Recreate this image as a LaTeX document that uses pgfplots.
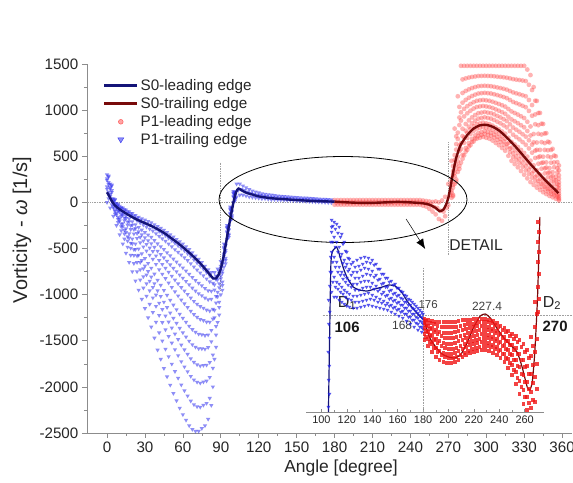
\documentclass[border=0pt]{standalone}
\usepackage{pgfplots}
\pgfplotsset{compat=1.18}
\usepackage{pgfplotstable}
\usepackage{fontspec}
\setmainfont{Liberation Sans}
\usetikzlibrary{arrows.meta}

\definecolor{navyline}{RGB}{20,20,120}
\definecolor{darkredline}{RGB}{120,10,10}
\definecolor{p1blue}{RGB}{50,50,240}
\definecolor{p1red}{RGB}{255,75,75}
\definecolor{inblue}{RGB}{30,30,230}
\definecolor{inred}{RGB}{240,20,20}
\definecolor{axisgray}{RGB}{140,140,140}
\definecolor{dotgray}{RGB}{160,160,160}

% P1-trailing edge (main): levels f0..f6 and in-between levels h1..h6
\pgfplotstableread{
a b f0 f1 f2 f3 f4 f5 f6 h1 h2 h3 h4 h5 h6
0 1.25 300 276 240 195 144 84 0 288 258 218 170 114 42
2.5 3.75 200 179 148 109 65 13 -60 190 164 129 87 39 -24
5 6.25 40 25 2 -27 -59 -97 -150 33 14 -13 -43 -78 -124
7.5 8.75 -10 -29 -58 -94 -135 -183 -250 -20 -44 -76 -115 -159 -217
10 11.25 -40 -65 -102 -149 -201 -263 -350 -53 -84 -126 -175 -232 -307
12.5 13.75 -60 -91 -138 -197 -263 -341 -450 -76 -115 -168 -230 -302 -396
15 16.25 -80 -118 -174 -245 -324 -418 -550 -99 -146 -210 -285 -371 -484
17.5 18.75 -100 -144 -210 -293 -386 -496 -650 -122 -177 -252 -340 -441 -573
20 21.25 -120 -170 -246 -341 -448 -574 -750 -145 -208 -294 -395 -511 -662
22.5 23.75 -140 -197 -282 -389 -509 -651 -850 -169 -240 -336 -449 -580 -751
25 26.25 -160 -223 -318 -437 -571 -729 -950 -192 -271 -378 -504 -650 -840
27.5 28.75 -175 -245 -350 -481 -630 -805 -1050 -210 -298 -416 -556 -718 -928
30 31.25 -190 -267 -382 -526 -689 -881 -1150 -229 -325 -454 -608 -785 -1016
32.5 33.75 -205 -289 -414 -571 -748 -957 -1250 -247 -352 -493 -660 -853 -1104
35 36.25 -220 -310 -446 -616 -808 -1034 -1350 -265 -378 -531 -712 -921 -1192
37.5 38.75 -240 -338 -486 -671 -880 -1126 -1470 -289 -412 -579 -776 -1003 -1298
40 41.25 -260 -367 -528 -729 -957 -1225 -1600 -314 -448 -629 -843 -1091 -1413
42.5 43.75 -280 -394 -564 -777 -1018 -1302 -1700 -337 -479 -671 -898 -1160 -1501
45 46.25 -300 -420 -600 -825 -1080 -1380 -1800 -360 -510 -713 -953 -1230 -1590
47.5 48.75 -325 -450 -638 -873 -1139 -1452 -1890 -388 -544 -756 -1006 -1296 -1671
50 51.25 -350 -480 -676 -921 -1198 -1524 -1980 -415 -578 -799 -1060 -1361 -1752
52.5 53.75 -375 -511 -714 -968 -1256 -1595 -2070 -443 -613 -841 -1112 -1426 -1833
55 56.25 -400 -540 -750 -1013 -1310 -1660 -2150 -470 -645 -882 -1162 -1485 -1905
57.5 58.75 -425 -569 -786 -1057 -1364 -1725 -2230 -497 -678 -922 -1211 -1545 -1978
60 61.25 -450 -598 -820 -1098 -1412 -1782 -2300 -524 -709 -959 -1255 -1597 -2041
62.5 63.75 -480 -630 -856 -1138 -1458 -1834 -2360 -555 -743 -997 -1298 -1646 -2097
65 66.25 -510 -663 -892 -1179 -1503 -1885 -2420 -587 -778 -1036 -1341 -1694 -2153
67.5 68.75 -545 -698 -928 -1215 -1541 -1924 -2460 -622 -813 -1072 -1378 -1733 -2192
70 71.25 -580 -732 -960 -1245 -1568 -1948 -2480 -656 -846 -1103 -1407 -1758 -2214
72.5 73.75 -615 -764 -988 -1268 -1585 -1958 -2480 -690 -876 -1128 -1427 -1772 -2219
75 76.25 -650 -794 -1010 -1280 -1586 -1946 -2450 -722 -902 -1145 -1433 -1766 -2198
77.5 78.75 -690 -828 -1036 -1296 -1590 -1936 -2420 -759 -932 -1166 -1443 -1763 -2178
80 81.25 -730 -860 -1054 -1297 -1572 -1896 -2350 -795 -957 -1176 -1435 -1734 -2123
82.5 83.75 -760 -875 -1048 -1264 -1509 -1797 -2200 -818 -962 -1156 -1387 -1653 -1999
85 86.25 -760 -835 -948 -1089 -1249 -1437 -1700 -798 -892 -1019 -1169 -1343 -1569
87.5 88.75 -720 -766 -836 -923 -1022 -1138 -1300 -743 -801 -880 -973 -1080 -1219
90 91.25 -640 -669 -712 -766 -827 -899 -1000 -655 -691 -739 -797 -863 -950
92.5 93.75 -450 -470 -500 -538 -580 -630 -700 -460 -485 -519 -559 -605 -665
95 96.25 -250 -262 -280 -303 -328 -358 -400 -256 -271 -292 -316 -343 -379
97.5 98.75 -50 -62 -80 -103 -128 -158 -200 -56 -71 -92 -116 -143 -179
100 101.25 120 110 96 78 58 34 0 115 103 87 68 46 17
}\bluetab

\pgfplotstableread{
a b u m l
102.5 103.75 200 130 60
105 106.25 200 140 80
107.5 108.75 180 130 80
110 111.25 160 115 70
112.5 113.75 140 100 60
115 116.25 125 90 55
117.5 118.75 115 80 50
120 121.25 105 75 45
122.5 123.75 95 70 40
125 126.25 90 65 40
127.5 128.75 85 60 35
130 131.25 80 55 30
132.5 133.75 75 52 30
135 136.25 70 50 28
137.5 138.75 68 48 26
140 141.25 65 45 25
142.5 143.75 62 43 24
145 146.25 60 40 22
147.5 148.75 57 38 20
150 151.25 55 36 18
152.5 153.75 52 34 16
155 156.25 50 32 14
157.5 158.75 48 30 12
160 161.25 45 28 10
162.5 163.75 43 26 8
165 166.25 40 24 6
167.5 168.75 38 22 4
170 171.25 36 20 2
172.5 173.75 34 18 0
175 176.25 32 16 -2
177.5 178.75 30 14 -4
}\bluetail

\pgfplotstableread{
a b u m l
180 181.25 25 0 -25
182.5 183.75 25 0 -25
185 186.25 25 0 -25
187.5 188.75 25 0 -25
190 191.25 25 0 -25
192.5 193.75 25 0 -25
195 196.25 25 0 -25
197.5 198.75 25 0 -25
200 201.25 25 0 -25
202.5 203.75 25 0 -25
205 206.25 25 0 -25
207.5 208.75 25 0 -25
210 211.25 25 0 -25
212.5 213.75 25 0 -25
215 216.25 25 0 -25
217.5 218.75 25 0 -25
220 221.25 25 0 -25
222.5 223.75 25 0 -25
225 226.25 25 0 -25
227.5 228.75 25 0 -25
230 231.25 25 0 -25
232.5 233.75 25 0 -25
235 236.25 25 0 -25
237.5 238.75 25 0 -25
240 241.25 25 0 -25
242.5 243.75 25 0 -25
245 246.25 25 0 -25
247.5 248.75 25 0 -25
250 251.25 20 -5 -35
252.5 253.75 15 -15 -45
255 256.25 10 -30 -70
257.5 258.75 5 -50 -100
260 261.25 10 -60 -130
262.5 263.75 0 -90 -180
265 266.25 20 -100 -200
267.5 268.75 60 -60 -150
270 271.25 200 80 -30
}\redflat

\pgfplotstableread{
a b g0 g1 g2 g3 g4 g5 g6 k1 k2 k3 k4 k5 k6
272.5 273.75 50 82 130 190 258 338 450 66 106 160 224 298 394
275 276.25 200 248 320 410 512 632 800 224 284 365 461 572 716
277.5 278.75 330 396 494 617 756 920 1150 363 445 556 687 838 1035
280 281.25 430 514 640 798 976 1186 1480 472 577 719 887 1081 1333
282.5 283.75 510 588 704 850 1014 1208 1480 549 646 777 932 1111 1344
285 286.25 570 643 752 889 1043 1225 1480 607 698 821 966 1134 1353
287.5 288.75 620 689 792 921 1067 1239 1480 655 741 857 994 1153 1360
290 291.25 660 726 824 947 1086 1250 1480 693 775 886 1017 1168 1365
292.5 293.75 690 753 848 967 1101 1259 1480 722 801 908 1034 1180 1370
295 296.25 700 762 856 973 1106 1262 1480 731 809 915 1040 1184 1371
297.5 298.75 710 772 864 980 1110 1264 1480 741 818 922 1045 1187 1372
300 301.25 700 762 856 973 1106 1262 1480 731 809 915 1040 1184 1371
302.5 303.75 690 753 848 967 1101 1259 1480 722 801 908 1034 1180 1370
305 306.25 670 735 832 954 1091 1253 1480 703 784 893 1023 1172 1367
307.5 308.75 645 712 812 937 1079 1246 1480 679 762 875 1008 1163 1363
310 311.25 620 689 792 921 1067 1239 1480 655 741 857 994 1153 1360
312.5 313.75 590 661 768 902 1053 1231 1480 626 715 835 978 1142 1356
315 316.25 560 634 744 882 1038 1222 1480 597 689 813 960 1130 1351
317.5 318.75 505 583 700 846 1012 1207 1480 544 642 773 929 1110 1344
320 321.25 450 532 656 811 986 1192 1480 491 594 734 899 1089 1336
322.5 323.75 415 500 628 788 969 1182 1480 458 564 708 879 1076 1331
325 326.25 380 468 600 765 952 1172 1480 424 534 683 859 1062 1326
327.5 328.75 340 431 568 739 933 1161 1480 386 500 654 836 1047 1321
330 331.25 300 394 536 713 914 1150 1480 347 465 625 814 1032 1315
332.5 333.75 260 354 496 673 874 1110 1440 307 425 585 774 992 1275
335 336.25 220 313 452 626 823 1055 1380 267 383 539 725 939 1218
337.5 338.75 190 275 402 561 741 953 1250 233 339 482 651 847 1102
340 341.25 160 235 348 489 649 837 1100 198 292 419 569 743 969
342.5 343.75 135 202 302 427 569 736 970 169 252 365 498 653 853
345 346.25 110 169 258 369 495 643 850 140 214 314 432 569 747
347.5 348.75 90 143 222 321 433 565 750 117 183 272 377 499 658
350 351.25 70 116 186 273 372 488 650 93 151 230 323 430 569
352.5 353.75 55 97 160 239 328 433 580 76 129 200 284 381 507
355 356.25 40 77 132 201 279 371 500 59 105 167 240 325 436
357.5 357.5 20 50 96 153 218 294 400 35 73 125 186 256 347
}\redspread

% inset tables (x in degree, y in inset units); w = shifted x for in-between levels
\pgfplotstableread{
x w l0 l1 l2 l3 l4 m1 m2 m3 m4
108 109 120 140 160 180 192 130 150 170 186
110 111 115 135 155 175 190 125 145 165 183
112 113 115 130 150 170 188 123 140 160 179
114 115 112 128 145 165 185 120 137 155 175
116 117 110 125 140 158 178 118 133 149 168
118 119 108 122 137 152 170 115 130 145 161
120 121 106 120 134 148 160 113 127 141 154
122 123.5 105 118 131 143 153 112 125 137 148
125 126.5 104 116 128 140 150 110 122 134 145
128 129.5 104 116 128 140 152 110 122 134 146
131 132.5 105 117 130 142 154 111 124 136 148
134 135.5 106 118 131 144 155 112 125 138 150
137 138.5 107 119 131 143 154 113 125 137 149
140 141.5 106 117 129 141 152 112 123 135 147
143 144.5 105 115 126 137 148 110 121 132 143
146 147.5 104 113 123 133 143 109 118 128 138
149 150.5 103 111 120 129 138 107 116 125 134
152 153.5 102 109 117 125 134 106 113 121 130
155 156.5 100 107 114 122 131 104 111 118 127
158 159.5 98 105 112 119 128 102 109 116 124
161 162.5 96 103 110 117 124 100 107 114 121
164 165.5 94 101 107 113 120 98 104 110 117
167 168.5 91 98 104 110 116 95 101 107 113
170 171.5 88 95 101 107 112 92 98 104 110
173 174.5 85 92 98 103 108 89 95 101 106
176 177.5 82 88 94 99 104 85 91 97 102
179 180 80 85 90 95 100 83 88 93 98
}\inblue

\pgfplotstableread{
x w r0 r1 r2 r3 r4 s1 s2 s3 s4
181 182.5 72 78 84 89 93 75 81 87 91
184 185.5 66 73 80 86 92 70 77 83 89
187 188.5 60 68 76 84 91 64 72 80 88
190 191.5 55 64 73 82 90 60 69 78 86
193 194.5 52 61 71 80 90 57 66 76 85
196 197.5 50 59 69 79 90 55 64 74 85
199 200.5 49 58 68 79 90 54 63 74 85
202 203.5 49 58 68 79 90 54 63 74 85
205 206.5 50 59 69 80 90 55 64 75 85
208 209.5 52 61 71 81 91 57 66 76 86
211 212.5 55 63 72 82 92 59 68 77 87
214 215.5 57 65 74 83 92 61 70 79 88
217 218.5 59 67 75 84 92 63 71 80 88
220 221.5 60 68 76 85 93 64 72 81 89
223 224.5 61 69 77 86 93 65 73 82 90
226 227.5 62 70 78 86 93 66 74 82 90
229 230.5 62 70 78 86 93 66 74 82 90
232 233.5 61 69 77 85 92 65 73 81 89
235 236.5 59 67 75 83 91 63 71 79 87
238 239.5 57 65 73 81 89 61 69 77 85
241 242.5 54 62 70 78 86 58 66 74 82
244 245.5 50 58 67 75 84 54 63 71 80
247 248.5 44 53 62 71 81 49 58 67 76
250 251.5 37 47 57 67 78 42 52 62 73
253 254.5 28 40 52 64 76 34 46 58 70
256 257.5 18 31 45 58 72 25 38 52 65
259 260.5 8 22 37 52 68 15 30 45 60
262 263.5 2 15 30 46 62 9 23 38 54
265 266.5 4 20 38 56 75 12 29 47 66
268 269.5 10 35 60 85 110 23 48 73 98
270.5 271.5 100 125 150 170 190 113 138 160 180
}\inred

\begin{document}
\begin{tikzpicture}
\path[use as bounding box, fill=white] (0,0) rectangle (573bp,483bp);

\begin{axis}[
  at={(86.8bp,50bp)}, anchor=south west,
  scale only axis, width=485.4bp, height=369bp,
  xmin=-16, xmax=368, ymin=-2500, ymax=1500,
  axis x line*=bottom, axis y line*=left,
  axis line style={draw=axisgray, line width=0.6pt, -},
  xtick={0,30,...,360},
  xticklabels={0,30,60,90,120,150,180,210,240,270,300,330,360},
  ytick={-2500,-2000,...,1500},
  yticklabels={-2500,-2000,-1500,-1000,-500,0,500,1000,1500},
  minor x tick num=1, minor y tick num=1,
  tick align=outside, major tick length=5bp, minor tick length=3bp,
  tick style={axisgray, line width=0.6pt},
  ticklabel style={font=\fontsize{15.2}{16}\selectfont, text=black!85},
  xticklabel style={inner xsep=0pt},
  clip mode=individual,
  legend style={at={(axis description cs:0.033,0.964)}, anchor=north west,
    draw=none, fill=none, font=\fontsize{15.3}{17}\selectfont,
    text=black!85, row sep=1.5bp, inner sep=0pt},
  legend cell align=left,
]
\addlegendimage{legend image code/.code={\draw[navyline,line width=2.6pt] (0bp,0bp) -- (33bp,0bp);}}
\addlegendentry{S0-leading edge}
\addlegendimage{legend image code/.code={\draw[darkredline,line width=2.6pt] (0bp,0bp) -- (33bp,0bp);}}
\addlegendentry{S0-trailing edge}
\addlegendimage{legend image code/.code={\fill[p1red,fill opacity=0.5] (16.5bp,0bp) circle (2.4bp);}}
\addlegendentry{P1-leading edge}
\addlegendimage{legend image code/.code={\fill[p1blue,fill opacity=0.55] (13.5bp,2bp) -- (19.5bp,2bp) -- (16.5bp,-3bp) -- cycle;}}
\addlegendentry{P1-trailing edge}

% dotted guide lines
\draw[dotgray, densely dotted, line width=0.7pt] (axis cs:-16,0) -- (axis cs:368,0);
\draw[dotgray, densely dotted, line width=0.7pt] (axis cs:90,430) -- (axis cs:90,-950);
\draw[dotgray, densely dotted, line width=0.7pt] (axis cs:270,650) -- (axis cs:270,-580);

% P1-trailing edge (blue triangles)
\pgfplotsset{bluemk/.style={only marks, mark=triangle*, mark size=2.5pt, color=p1blue,
  mark options={rotate=180, fill=p1blue, draw opacity=0, fill opacity=0.55}, forget plot}}
\addplot[bluemk] table[x=a, y=f0] {\bluetab};
\addplot[bluemk] table[x=b, y=f1] {\bluetab};
\addplot[bluemk] table[x=a, y=f2] {\bluetab};
\addplot[bluemk] table[x=b, y=f3] {\bluetab};
\addplot[bluemk] table[x=a, y=f4] {\bluetab};
\addplot[bluemk] table[x=b, y=f5] {\bluetab};
\addplot[bluemk] table[x=a, y=f6] {\bluetab};
\addplot[bluemk] table[x=b, y=h1] {\bluetab};
\addplot[bluemk] table[x=a, y=h2] {\bluetab};
\addplot[bluemk] table[x=b, y=h3] {\bluetab};
\addplot[bluemk] table[x=a, y=h4] {\bluetab};
\addplot[bluemk] table[x=b, y=h5] {\bluetab};
\addplot[bluemk] table[x=b, y=h6] {\bluetab};
\addplot[bluemk] table[x=a, y=u] {\bluetail};
\addplot[bluemk] table[x=b, y=m] {\bluetail};
\addplot[bluemk] table[x=a, y=l] {\bluetail};

% P1-leading edge (red circles)
\pgfplotsset{redmk/.style={only marks, mark=*, mark size=2.4pt, color=p1red,
  mark options={fill=p1red, draw opacity=0, fill opacity=0.42}, forget plot}}
\addplot[redmk] table[x=a, y=u] {\redflat};
\addplot[redmk] table[x=b, y=m] {\redflat};
\addplot[redmk] table[x=a, y=l] {\redflat};
\addplot[redmk] table[x=a, y=g0] {\redspread};
\addplot[redmk] table[x=b, y=g1] {\redspread};
\addplot[redmk] table[x=a, y=g2] {\redspread};
\addplot[redmk] table[x=b, y=g3] {\redspread};
\addplot[redmk] table[x=a, y=g4] {\redspread};
\addplot[redmk] table[x=b, y=g5] {\redspread};
\addplot[redmk] table[x=a, y=g6] {\redspread};
\addplot[redmk] table[x=b, y=k1] {\redspread};
\addplot[redmk] table[x=a, y=k2] {\redspread};
\addplot[redmk] table[x=b, y=k3] {\redspread};
\addplot[redmk] table[x=a, y=k4] {\redspread};
\addplot[redmk] table[x=b, y=k5] {\redspread};
\addplot[redmk] table[x=b, y=k6] {\redspread};

% S0 curves
\addplot[navyline, line width=2.4pt, smooth, tension=0.4, forget plot] coordinates {
(0,110) (2,60) (4,10) (6,-30) (10,-75) (15,-120) (20,-160) (25,-195) (30,-225)
(35,-255) (40,-290) (45,-330) (50,-380) (55,-430) (60,-485) (65,-545) (70,-610)
(75,-680) (80,-760) (84,-825) (86,-825) (88,-790) (90,-720) (92,-600) (94,-450)
(96,-290) (98,-140) (100,0) (102,110) (104,150) (106,135) (110,105) (115,85)
(120,65) (130,45) (140,35) (150,25) (160,18) (170,12) (180,8)};
\addplot[darkredline, line width=2.4pt, smooth, tension=0.4, forget plot] coordinates {
(180,8) (190,0) (200,-5) (210,-5) (220,0) (230,5) (240,0) (250,-10) (255,-25)
(260,-60) (263,-95) (266,-80) (268,-30) (270,50) (272,190) (274,340) (276,470)
(278,560) (280,630) (285,730) (290,800) (295,835) (300,840) (305,820) (310,780)
(315,720) (320,650) (325,575) (330,495) (335,415) (340,340) (345,265) (350,195)
(355,130) (357,100)};

% ellipse, arrow, DETAIL
\draw[black, line width=0.8pt] (axis cs:186.7,31) ellipse [x radius=124bp, y radius=43bp];
\draw[-{Latex[length=10bp,width=8bp]}, line width=0.5pt] (axis cs:236.6,-180) -- (axis cs:251.7,-505);
\node[font=\fontsize{15.7}{16}\selectfont, text=black!85] at (axis cs:292,-462) {DETAIL};

% axis titles
\node[font=\fontsize{17.5}{18}\selectfont, text=black!85] at (axis description cs:0.5237,-0.095) {Angle [degree]};
\node[font=\fontsize{20}{20}\selectfont, text=black!85, rotate=90] at (axis description cs:-0.1335,0.55) {Vorticity - \textit{ω} [1/s]};
\end{axis}

% ---------- inset ----------
\begin{axis}[
  at={(306.2bp,71bp)}, anchor=south west,
  scale only axis, width=237.5bp, height=197bp,
  xmin=88, xmax=275, ymin=0, ymax=197,
  axis x line*=bottom, axis y line=none,
  axis line style={draw=axisgray, line width=0.6pt, -},
  xtick={100,120,...,260},
  xticklabels={100,120,140,160,180,200,220,240,260},
  minor x tick num=1,
  tick align=inside, major tick length=3bp, minor tick length=2bp,
  tick style={axisgray, line width=0.5pt},
  ticklabel style={font=\fontsize{11}{11}\selectfont, text=black!85},
  clip=false,
]
\draw[dotgray, densely dotted, line width=0.6pt] (axis cs:101,97) -- (axis cs:298,97);
\draw[dotgray, densely dotted, line width=0.6pt] (axis cs:180,144) -- (axis cs:180,0);

\pgfplotsset{ibmk/.style={only marks, mark=triangle*, mark size=2.2pt, color=inblue,
  mark options={rotate=180, fill=inblue, draw opacity=0, fill opacity=0.75}}}
\pgfplotsset{irmk/.style={only marks, mark=square*, mark size=1.8pt, color=inred,
  mark options={fill=inred, draw opacity=0, fill opacity=0.8}}}
\addplot[ibmk] coordinates {(105.5,5) (106.3,18) (105.7,32) (106.2,46) (105.4,60)
 (106.4,74) (105.8,88) (106.5,100) (105.6,112) (106.6,126) (107,140) (107.3,155)
 (107.5,170) (108,185)};
\addplot[ibmk] table[x=x, y=l0] {\inblue};
\addplot[ibmk] table[x=x, y=l1] {\inblue};
\addplot[ibmk] table[x=x, y=l2] {\inblue};
\addplot[ibmk] table[x=x, y=l3] {\inblue};
\addplot[ibmk] table[x=x, y=l4] {\inblue};
\addplot[ibmk] table[x=w, y=m1] {\inblue};
\addplot[ibmk] table[x=w, y=m2] {\inblue};
\addplot[ibmk] table[x=w, y=m3] {\inblue};
\addplot[ibmk] table[x=w, y=m4] {\inblue};
\addplot[irmk] table[x=x, y=r0] {\inred};
\addplot[irmk] table[x=x, y=r1] {\inred};
\addplot[irmk] table[x=x, y=r2] {\inred};
\addplot[irmk] table[x=x, y=r3] {\inred};
\addplot[irmk] table[x=x, y=r4] {\inred};
\addplot[irmk] table[x=w, y=s1] {\inred};
\addplot[irmk] table[x=w, y=s2] {\inred};
\addplot[irmk] table[x=w, y=s3] {\inred};
\addplot[irmk] table[x=w, y=s4] {\inred};

\addplot[navyline, line width=1.2pt, smooth, tension=0.35] coordinates {
(105.5,0) (106,40) (106.5,80) (107,120) (107.5,150) (108.5,160) (110,163) (112,165)
(114,158) (117,145) (120,135) (125,125) (130,122) (136,121) (142,123) (148,125)
(153,127) (158,126) (163,120) (168,110) (173,102) (178,95) (181,92)};
\addplot[darkredline, line width=1.2pt, smooth, tension=0.35] coordinates {
(181,92) (185,75) (190,65) (195,58) (200,55) (205,54) (210,58) (215,70) (220,85)
(225,96) (229,98) (233,94) (238,84) (243,75) (248,68) (254,60) (258,45) (262,25)
(264,22) (266,30) (268,60) (270,110) (271,150) (272,195)};

\node[font=\fontsize{16}{16}\selectfont, text=black!85] at (axis cs:120.2,109) {D\textsubscript{1}};
\node[font=\bfseries\fontsize{15}{15}\selectfont, text=black!90] at (axis cs:120.2,85) {106};
\node[font=\fontsize{12}{12}\selectfont, text=black!75] at (axis cs:163.5,87) {168};
\node[font=\fontsize{11.5}{12}\selectfont, text=black!75] at (axis cs:184,107) {176};
\node[font=\fontsize{12}{12}\selectfont, text=black!75] at (axis cs:230.4,106) {227.4};
\node[font=\fontsize{16}{16}\selectfont, text=black!85] at (axis cs:281.6,109) {D\textsubscript{2}};
\node[font=\bfseries\fontsize{15}{15}\selectfont, text=black!90] at (axis cs:284,86) {270};
\end{axis}
\end{tikzpicture}
\end{document}
